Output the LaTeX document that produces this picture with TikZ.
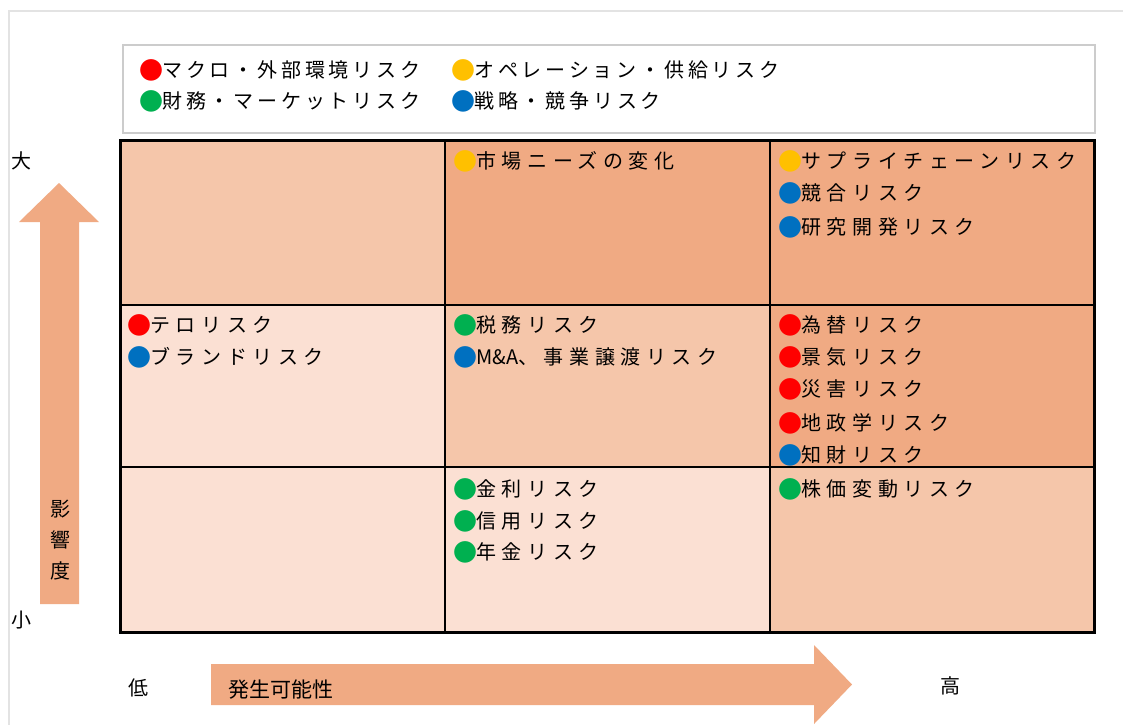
\documentclass[tikz,border=0pt]{standalone}
\usepackage{fontspec}
\newfontfamily\jp{Noto Sans CJK JP}[LetterSpace=28]
\newfontfamily\jpl{Noto Sans CJK JP}[LetterSpace=19]
\newfontfamily\jpn{Noto Sans CJK JP}
\definecolor{cred}{HTML}{FF0000}
\definecolor{cyel}{HTML}{FFC000}
\definecolor{cgrn}{HTML}{00B050}
\definecolor{cblu}{HTML}{0070C0}
\definecolor{fdark}{HTML}{F0AA83}
\definecolor{fmid}{HTML}{F5C6AA}
\definecolor{flight}{HTML}{FBE0D3}
\definecolor{framegray}{HTML}{E3E3E3}
\definecolor{legendgray}{HTML}{CCCCCC}
\newcommand\dotc[1]{\raisebox{-1.5pt}{\jpn\fontsize{24}{24}\selectfont\textcolor{#1}{●}}\kern-1pt}
\begin{document}
\begin{tikzpicture}[x=1pt,y=-1pt,
  item/.style={anchor=west,inner sep=0pt,font=\jp\fontsize{20}{20}\selectfont},
  legitem/.style={anchor=west,inner sep=0pt,font=\jpl\fontsize{20}{20}\selectfont},
  axlab/.style={inner sep=0pt,font=\jpn\fontsize{20}{20}\selectfont},
  axarrow/.style={fill=fdark,draw=none}]
\useasboundingbox (0,0) rectangle (1123,724);
\fill[white] (0,0) rectangle (1123,724);
% outer frame
\draw[framegray,line width=2pt] (9,740) -- (9,11) -- (1140,11);
% legend box
\draw[legendgray,line width=1.5pt,fill=white] (123,45) rectangle (1095,133);
\node[legitem] (l1) at (139,70) {\dotc{cred}マクロ・外部環境リスク};
\node[legitem] (l2) at (451,70) {\dotc{cyel}オペレーション・供給リスク};
\node[legitem] (l3) at (139,101) {\dotc{cgrn}財務・マーケットリスク};
\node[legitem] (l4) at (451,101) {\dotc{cblu}戦略・競争リスク};
% cells
\fill[fmid]   (120,140) rectangle (445,305);
\fill[fdark]  (445,140) rectangle (770,305);
\fill[fdark]  (770,140) rectangle (1094,305);
\fill[flight] (120,305) rectangle (445,467);
\fill[fmid]   (445,305) rectangle (770,467);
\fill[fdark]  (770,305) rectangle (1094,467);
\fill[flight] (120,467) rectangle (445,632);
\fill[flight] (445,467) rectangle (770,632);
\fill[fmid]   (770,467) rectangle (1094,632);
\draw[line width=2pt] (445,140) -- (445,632) (770,140) -- (770,632)
  (120,305) -- (1094,305) (120,467) -- (1094,467);
\draw[line width=3pt] (120,140) rectangle (1094,632);
% items
\node[item] (a1) at (127,325) {\dotc{cred}テロリスク};
\node[item] (a2) at (127,357) {\dotc{cblu}ブランドリスク};
\node[item] (b1) at (453,161) {\dotc{cyel}市場ニーズの変化};
\node[item] (c1) at (778,161) {\dotc{cyel}サプライチェーンリスク};
\node[item] (c2) at (778,193) {\dotc{cblu}競合リスク};
\node[item] (c3) at (778,227) {\dotc{cblu}研究開発リスク};
\node[item] (d1) at (453,325) {\dotc{cgrn}税務リスク};
\node[item] (d2) at (453,357) {\dotc{cblu}{\jpn M\&A}、事業譲渡リスク};
\node[item] (e1) at (778,325) {\dotc{cred}為替リスク};
\node[item] (e2) at (778,357) {\dotc{cred}景気リスク};
\node[item] (e3) at (778,389) {\dotc{cred}災害リスク};
\node[item] (e4) at (778,423) {\dotc{cred}地政学リスク};
\node[item] (e5) at (778,455) {\dotc{cblu}知財リスク};
\node[item] (f1) at (453,489) {\dotc{cgrn}金利リスク};
\node[item] (f2) at (453,521) {\dotc{cgrn}信用リスク};
\node[item] (f3) at (453,552) {\dotc{cgrn}年金リスク};
\node[item] (g1) at (778,489) {\dotc{cgrn}株価変動リスク};
% arrows
\fill[axarrow] (40,604) -- (40,222) -- (19,222) -- (59,183) -- (99,222) -- (79,222) -- (79,604) -- cycle;
\fill[axarrow] (211,664) -- (814,664) -- (814,645) -- (852,684.5) -- (814,724) -- (814,705) -- (211,705) -- cycle;
% axis labels
\node[axlab] (big) at (22,161) {大};
\node[axlab] (small) at (22,620) {小};
\node[axlab] (low) at (138,688) {低};
\node[axlab] (high) at (950,686) {高};
\node[axlab,anchor=west,font=\jpn\fontsize{21}{21}\selectfont] (prob) at (228,690) {発生可能性};
\node[axlab,align=center,font=\jpn\fontsize{20}{31}\selectfont] (imp) at (60,540) {影\\響\\度};
\end{tikzpicture}
\end{document}
